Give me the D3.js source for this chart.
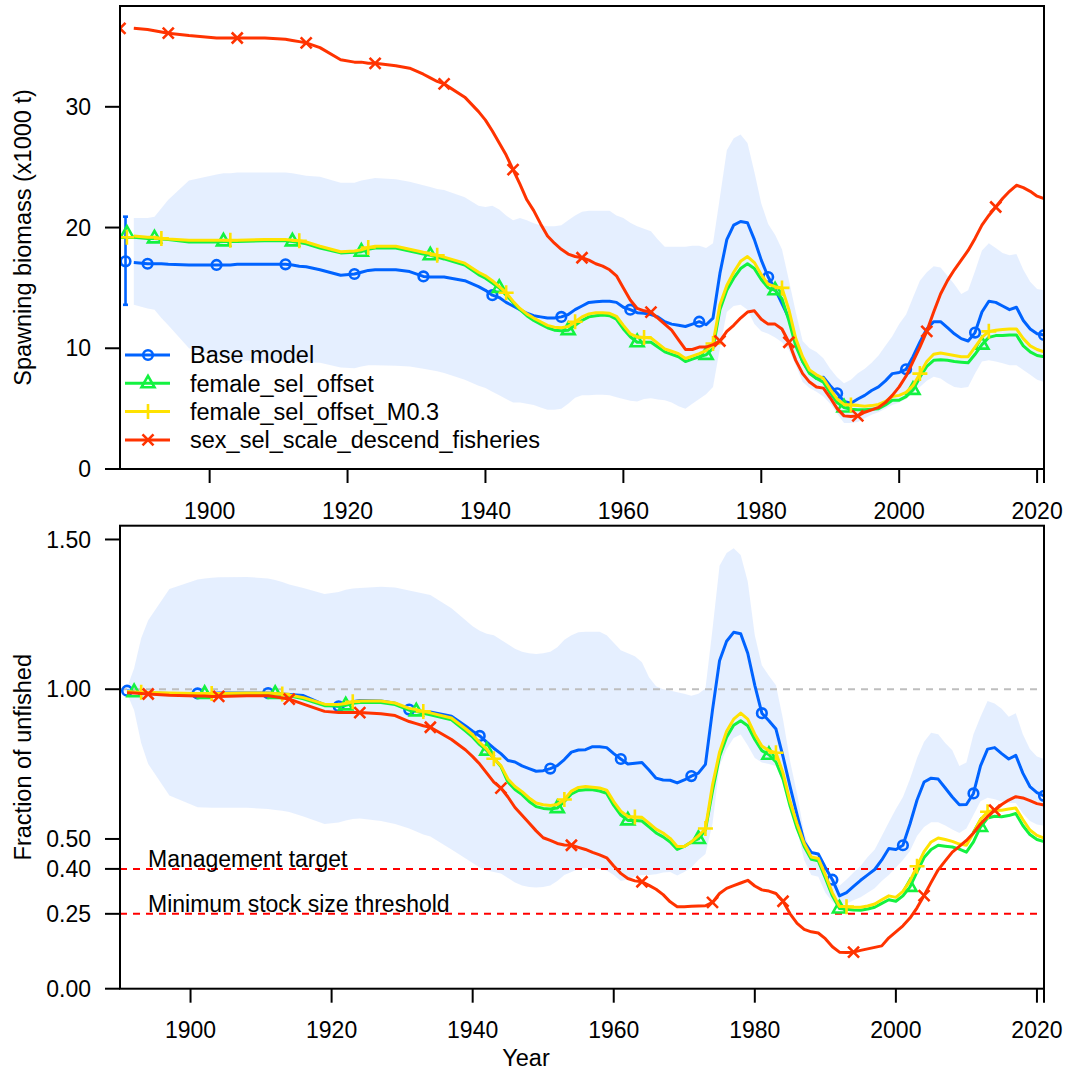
<!DOCTYPE html>
<html>
<head>
<meta charset="utf-8">
<script src="https://cdn.jsdelivr.net/npm/d3@7"></script>
<style>
  body { margin: 0; background: #fff; }
  svg { display: block; font-family: Arial, "Liberation Sans", sans-serif; }
  .frame { fill: none; stroke: #000; stroke-width: 2; }
  .tick line { stroke: #000; stroke-width: 2; }
  .tick text, .axis-title, .legend text, .ref-label { fill: #000; }
</style>
</head>
<body>
<div id="chart"></div>
<script>
// ---- data ----------------------------------------------------------------
const MODELS = ["Base model", "female_sel_offset", "female_sel_offset_M0.3", "sex_sel_scale_descend_fisheries"];
const COLORS = ["#0063FF", "#13F240", "#FFE201", "#FF3300"];
const SHAPES = ["circle", "triangle", "plus", "cross"];
const MARKER_START = [1891, 1892, 1893, 1894];
const MARKER_STEP = 10;

const YEARS = [
  1889, 1891, 1892, 1893, 1894, 1897, 1901, 1902, 1903, 1904, 1908, 1911, 1912, 1913, 1914,
  1916, 1919, 1921, 1922, 1923, 1924, 1927, 1929, 1931, 1932, 1933, 1934, 1937, 1939,
  1940, 1941, 1942, 1943, 1944, 1945, 1946, 1947, 1948, 1949,
  1950, 1951, 1952, 1953, 1954, 1955, 1956, 1957, 1958, 1959,
  1960, 1961, 1962, 1963, 1964, 1965, 1966, 1967, 1968, 1969,
  1970, 1971, 1972, 1973, 1974, 1975, 1976, 1977, 1978, 1979,
  1980, 1981, 1982, 1983, 1984, 1985, 1986, 1987, 1988, 1989,
  1990, 1991, 1992, 1993, 1994, 1995, 1996, 1997, 1998, 1999,
  2000, 2001, 2002, 2003, 2004, 2005, 2006, 2007, 2008, 2009,
  2010, 2011, 2012, 2013, 2014, 2015, 2016, 2017, 2018, 2019,
  2020, 2021
];

// spawning biomass (x1000 t)
const SSB_BASE = [
  17.1, 17.0, 17.0, 17.0, 16.95, 16.9, 16.9, 16.9, 16.9, 16.95, 16.95, 16.95, 16.9, 16.8, 16.75,
  16.5, 16.05, 16.15, 16.3, 16.45, 16.5, 16.5, 16.35, 15.95, 15.9, 15.9, 15.9, 15.6, 15.1,
  14.8, 14.4, 14.2, 13.8, 13.5, 13.2, 12.9, 12.7, 12.6, 12.5,
  12.5, 12.6, 12.8, 13.2, 13.5, 13.8, 13.85, 13.9, 13.9, 13.8,
  13.4, 13.2, 12.95, 12.9, 12.8, 12.6, 12.2, 12.0, 11.9, 11.8,
  12.0, 12.2, 11.95, 12.5, 16.2, 19.0, 20.2, 20.5, 20.4, 19.0,
  17.3, 15.9, 14.9, 13.7, 12.5, 10.6, 8.9, 8.0, 7.5, 7.6,
  6.9, 6.27, 5.6, 5.45, 5.8, 6.1, 6.5, 6.8, 7.3, 7.9,
  8.0, 8.26, 9.3, 10.5, 11.6, 12.2, 12.2, 11.7, 11.2, 10.8,
  10.6, 11.3, 13.0, 13.9, 13.8, 13.5, 13.2, 13.4, 12.3, 11.6,
  11.2, 11.1
];
const SSB_FEMALE = [
  19.2, 19.1, 19.1, 19.05, 19.0, 18.8, 18.8, 18.85, 18.85, 18.85, 18.9, 18.9, 18.85, 18.75, 18.65,
  18.3, 17.9, 17.95, 18.0, 18.2, 18.3, 18.3, 18.05, 17.8, 17.7, 17.55, 17.4, 16.9, 16.1,
  15.8, 15.4, 15.0, 14.4, 13.8, 13.2, 12.7, 12.3, 12.0, 11.7,
  11.5, 11.45, 11.5, 11.9, 12.3, 12.6, 12.7, 12.75, 12.7, 12.4,
  11.6, 10.95, 10.5, 10.5, 10.5, 10.1, 9.7, 9.5, 9.3, 8.9,
  9.1, 9.3, 9.45, 10.0, 13.2, 14.8, 15.8, 16.6, 17.0, 16.6,
  15.7, 15.0, 14.8, 14.1, 12.3, 10.2, 8.9, 7.9, 7.5, 7.2,
  6.3, 5.5, 5.1, 4.95, 4.9, 4.9, 4.95, 5.0, 5.3, 5.7,
  5.7, 6.0, 6.55, 7.6, 8.5, 9.0, 9.05, 9.0, 8.9, 8.85,
  8.8, 9.5, 10.3, 10.9, 11.05, 11.05, 11.1, 11.1, 10.2, 9.7,
  9.4, 9.3
];
const SSB_FEMALE_M03 = [
  19.3, 19.2, 19.2, 19.1, 19.05, 18.95, 18.95, 18.95, 18.95, 18.95, 19.0, 19.0, 18.95, 18.9, 18.8,
  18.45, 18.0, 18.05, 18.15, 18.35, 18.45, 18.45, 18.2, 17.95, 17.85, 17.7, 17.55, 17.05, 16.3,
  16.0, 15.6, 15.1, 14.6, 13.9, 13.3, 12.85, 12.5, 12.2, 11.9,
  11.75, 11.7, 11.8, 12.2, 12.6, 12.85, 12.95, 12.95, 12.9, 12.65,
  11.9, 11.2, 10.95, 10.9, 10.85, 10.4, 9.95, 9.75, 9.55, 9.15,
  9.35, 9.55, 9.8, 10.4, 13.6, 15.2, 16.3, 17.2, 17.6, 17.1,
  16.1, 15.3, 15.1, 15.0, 13.2, 10.8, 9.3, 8.2, 7.8, 7.5,
  6.6, 5.8, 5.35, 5.3, 5.25, 5.2, 5.25, 5.35, 5.6, 6.0,
  6.1, 6.35, 6.9, 7.9, 8.9, 9.5, 9.6, 9.5, 9.4, 9.3,
  9.3, 10.1, 10.9, 11.4, 11.5, 11.55, 11.6, 11.6, 10.8, 10.2,
  9.9, 9.7
];
const SSB_SEX_SEL = [
  36.5, 36.4, 36.3, 36.2, 36.1, 35.9, 35.7, 35.7, 35.7, 35.7, 35.7, 35.6, 35.5, 35.4, 35.3,
  34.9, 33.9, 33.7, 33.7, 33.6, 33.6, 33.4, 33.2, 32.7, 32.4, 32.1, 31.9, 30.8, 29.6,
  28.9, 28.0, 27.0, 26.0, 24.8, 23.6, 22.3, 21.4, 20.3, 19.3,
  18.7, 18.2, 17.8, 17.6, 17.5, 17.3, 17.0, 16.8, 16.5, 16.0,
  15.0, 14.0, 13.3, 13.1, 13.0, 12.5, 12.0, 11.5, 10.7, 9.9,
  9.9, 10.1, 10.1, 10.3, 10.6, 11.4, 11.9, 12.5, 13.0, 13.1,
  12.4, 12.0, 12.0, 11.6, 10.5, 9.0, 7.9, 7.2, 6.8, 6.7,
  5.9, 5.0, 4.4, 4.35, 4.4, 4.7, 4.9, 5.1, 5.5, 6.1,
  6.8, 7.7, 8.9, 10.1, 11.4, 13.0, 14.5, 15.6, 16.5, 17.3,
  18.1, 19.1, 20.2, 21.0, 21.7, 22.4, 23.0, 23.5, 23.3, 23.0,
  22.6, 22.4
];
// base model 95% interval for spawning biomass
const SSB_BASE_LOW = [
  13.6, 13.3, 13.2, 12.5, 11.9, 10.0, 9.3, 9.2, 9.1, 9.0, 8.95, 8.9, 8.9, 8.85, 8.85,
  8.8, 8.4, 8.35, 8.5, 8.6, 8.6, 8.55, 8.5, 8.3, 8.2, 8.1, 7.95, 7.4, 6.9,
  6.7, 6.4, 6.1, 5.8, 5.5, 5.5, 5.4, 5.3, 5.1, 4.9,
  4.9, 5.0, 5.4, 5.9, 6.1, 6.1, 6.15, 6.15, 6.1, 5.95,
  5.8, 5.65, 5.6, 5.8, 5.85, 5.75, 5.7, 5.5, 5.2, 5.0,
  5.4, 5.8, 6.2, 6.8, 10.0, 13.0, 13.5, 13.6, 13.2, 12.0,
  11.4, 11.2, 10.9, 10.5, 9.86, 8.6, 7.2, 6.7, 6.4, 6.0,
  5.4, 4.6, 3.8, 3.8, 3.9, 4.2, 4.5, 4.7, 5.0, 5.3,
  5.5, 5.8, 6.3, 6.8, 7.3, 7.65, 7.5, 7.1, 6.8, 6.7,
  6.8, 7.9, 8.9, 9.0, 8.9, 8.75, 8.6, 8.6, 8.2, 7.8,
  7.4, 7.2
];
const SSB_BASE_HIGH = [
  20.8, 20.8, 20.9, 21.6, 22.3, 23.9, 24.4, 24.5, 24.5, 24.55, 24.55, 24.55, 24.5, 24.4, 24.3,
  24.2, 23.7, 23.7, 23.9, 24.0, 24.1, 24.0, 23.8, 23.5, 23.35, 23.2, 23.1, 22.5, 21.8,
  21.7, 21.8, 21.5, 21.0, 20.6, 20.8, 20.6, 20.35, 20.2, 20.1,
  20.1, 20.2, 20.6, 21.0, 21.3, 21.4, 21.4, 21.4, 21.4, 21.0,
  20.8, 20.4, 20.1, 19.9, 19.7, 19.0, 18.4, 18.4, 18.4, 18.4,
  18.5, 18.5, 18.3, 18.7, 22.5, 26.4, 27.4, 27.7, 27.0, 24.6,
  22.0, 20.3, 19.4, 18.2, 15.66, 13.0, 10.6, 10.0, 9.7, 9.17,
  8.3, 7.6, 7.1, 7.4, 7.93, 8.3, 8.8, 9.4, 10.2, 11.0,
  12.0, 12.8, 14.2, 15.6, 16.3, 16.8, 16.7, 16.0, 15.3, 14.5,
  14.8, 16.4, 18.1, 18.7, 18.3, 17.9, 17.7, 17.8, 16.5, 15.5,
  14.9, 14.8
];
// unfished (virgin) spawning biomass, plotted left of the series
const VIRGIN_YEAR = [1887.8, 1888, 1888, 1887];
const VIRGIN_SSB = [17.2, 19.5, 19.2, 36.5];
const VIRGIN_BASE_INTERVAL = [13.6, 20.9];

// fraction of unfished
const BRATIO_BASE = [
  null, 0.995, 0.99, 0.988, 0.987, 0.986, 0.986, 0.986, 0.986, 0.987, 0.987, 0.987, 0.986, 0.984, 0.982,
  0.979, 0.948, 0.943, 0.95, 0.958, 0.962, 0.961, 0.953, 0.932, 0.928, 0.926, 0.924, 0.91, 0.877,
  0.86, 0.844, 0.823, 0.803, 0.785, 0.762, 0.757, 0.744, 0.735, 0.726,
  0.728, 0.735, 0.745, 0.765, 0.79, 0.797, 0.798, 0.808, 0.808, 0.805,
  0.785, 0.767, 0.75, 0.753, 0.755, 0.73, 0.703, 0.697, 0.696, 0.687,
  0.697, 0.71, 0.72, 0.749, 0.93, 1.095, 1.16, 1.19, 1.185, 1.12,
  1.013, 0.92, 0.895, 0.867, 0.775, 0.675, 0.58, 0.49, 0.455, 0.45,
  0.405, 0.364, 0.31, 0.321, 0.342, 0.362, 0.38, 0.398, 0.43, 0.468,
  0.465, 0.479, 0.55, 0.63, 0.69, 0.703, 0.7, 0.67, 0.64, 0.614,
  0.615, 0.652, 0.744, 0.8, 0.805, 0.785, 0.767, 0.779, 0.72, 0.675,
  0.655, 0.644
];
const BRATIO_FEMALE = [
  null, 0.99, 0.99, 0.988, 0.987, 0.985, 0.984, 0.984, 0.984, 0.984, 0.985, 0.985, 0.984, 0.982, 0.978,
  0.968, 0.945, 0.944, 0.946, 0.953, 0.956, 0.956, 0.949, 0.93, 0.926, 0.92, 0.915, 0.898, 0.86,
  0.84, 0.815, 0.795, 0.77, 0.742, 0.69, 0.665, 0.648, 0.625, 0.608,
  0.602, 0.6, 0.603, 0.625, 0.65, 0.662, 0.664, 0.664, 0.66, 0.652,
  0.612, 0.58, 0.562, 0.562, 0.56, 0.54, 0.52, 0.507, 0.49, 0.465,
  0.475, 0.49, 0.5, 0.53, 0.66, 0.775, 0.84, 0.88, 0.895, 0.878,
  0.832, 0.795, 0.781, 0.757, 0.7, 0.61, 0.535, 0.475, 0.432, 0.427,
  0.37, 0.31, 0.268, 0.265, 0.263, 0.262, 0.266, 0.272, 0.285, 0.297,
  0.292, 0.31, 0.34, 0.39, 0.438, 0.465, 0.479, 0.476, 0.473, 0.466,
  0.456, 0.49, 0.54, 0.57, 0.576, 0.574, 0.578, 0.585, 0.545, 0.515,
  0.498, 0.491
];
const BRATIO_FEMALE_M03 = [
  null, 0.992, 0.991, 0.99, 0.989, 0.987, 0.986, 0.986, 0.986, 0.986, 0.987, 0.987, 0.986, 0.984, 0.981,
  0.972, 0.95, 0.949, 0.952, 0.958, 0.961, 0.961, 0.954, 0.936, 0.932, 0.926, 0.921, 0.904, 0.868,
  0.848, 0.822, 0.8, 0.768, 0.745, 0.7, 0.675, 0.658, 0.637, 0.62,
  0.614, 0.612, 0.615, 0.632, 0.66, 0.672, 0.675, 0.673, 0.67, 0.663,
  0.625, 0.593, 0.575, 0.573, 0.572, 0.553, 0.533, 0.52, 0.502, 0.475,
  0.475, 0.49, 0.51, 0.535, 0.68, 0.79, 0.86, 0.9, 0.92, 0.9,
  0.85, 0.81, 0.795, 0.788, 0.72, 0.625, 0.55, 0.485, 0.44, 0.435,
  0.38, 0.32, 0.275, 0.274, 0.272, 0.272, 0.276, 0.283, 0.297, 0.31,
  0.305, 0.325, 0.36, 0.409, 0.458, 0.49, 0.503, 0.498, 0.492, 0.483,
  0.479, 0.52, 0.565, 0.591, 0.596, 0.596, 0.6, 0.603, 0.565, 0.53,
  0.512, 0.503
];
const BRATIO_SEX_SEL = [
  null, 0.988, 0.987, 0.986, 0.984, 0.98, 0.977, 0.977, 0.976, 0.976, 0.978, 0.978, 0.975, 0.971, 0.967,
  0.95, 0.926, 0.922, 0.922, 0.922, 0.922, 0.918, 0.912, 0.892, 0.885, 0.878, 0.873, 0.832, 0.797,
  0.775, 0.75, 0.72, 0.69, 0.67, 0.64, 0.605, 0.579, 0.553, 0.527,
  0.504, 0.495, 0.485, 0.48, 0.479, 0.472, 0.465, 0.455, 0.447, 0.437,
  0.41, 0.385, 0.368, 0.36, 0.357, 0.345, 0.332, 0.314, 0.29, 0.274,
  0.274, 0.275, 0.276, 0.277, 0.288, 0.318, 0.335, 0.344, 0.353, 0.362,
  0.343, 0.33, 0.326, 0.318, 0.292, 0.25, 0.218, 0.198, 0.19, 0.186,
  0.167, 0.14, 0.122, 0.121, 0.122, 0.128, 0.133, 0.138, 0.143, 0.17,
  0.19, 0.21, 0.236, 0.27, 0.311, 0.355, 0.397, 0.427, 0.456, 0.475,
  0.495, 0.52, 0.55, 0.575, 0.596, 0.615, 0.63, 0.641, 0.637, 0.628,
  0.618, 0.613
];
const BRATIO_BASE_LOW = [
  null, 0.985, 0.93, 0.82, 0.75, 0.645, 0.606, 0.605, 0.604, 0.604, 0.604, 0.6, 0.597, 0.594, 0.59,
  0.575, 0.55, 0.555, 0.562, 0.567, 0.568, 0.56, 0.55, 0.535, 0.525, 0.515, 0.508, 0.465, 0.435,
  0.42, 0.405, 0.395, 0.39, 0.385, 0.37, 0.355, 0.345, 0.34, 0.338,
  0.34, 0.345, 0.36, 0.38, 0.39, 0.4, 0.403, 0.403, 0.4, 0.395,
  0.38, 0.36, 0.365, 0.375, 0.38, 0.38, 0.382, 0.388, 0.39, 0.378,
  0.39, 0.405, 0.43, 0.45, 0.55, 0.744, 0.8, 0.837, 0.849, 0.812,
  0.77, 0.755, 0.75, 0.744, 0.69, 0.6, 0.53, 0.43, 0.38, 0.374,
  0.32, 0.29, 0.274, 0.284, 0.295, 0.305, 0.32, 0.335, 0.36, 0.38,
  0.405, 0.43, 0.46, 0.51, 0.54, 0.556, 0.556, 0.545, 0.532, 0.52,
  0.535, 0.58, 0.626, 0.638, 0.633, 0.625, 0.62, 0.62, 0.585, 0.56,
  0.548, 0.544
];
const BRATIO_BASE_HIGH = [
  null, 1.005, 1.07, 1.17, 1.23, 1.335, 1.366, 1.37, 1.372, 1.374, 1.375, 1.37, 1.365, 1.358, 1.35,
  1.338, 1.318, 1.325, 1.332, 1.336, 1.338, 1.342, 1.34, 1.33, 1.325, 1.32, 1.315, 1.27, 1.23,
  1.21, 1.195, 1.185, 1.18, 1.165, 1.15, 1.135, 1.125, 1.12, 1.118,
  1.12, 1.125, 1.14, 1.165, 1.18, 1.19, 1.192, 1.192, 1.192, 1.18,
  1.155, 1.13, 1.12, 1.11, 1.09, 1.04, 1.01, 1.0, 0.996, 0.99,
  0.985, 0.978, 0.985, 1.002, 1.2, 1.412, 1.455, 1.471, 1.448, 1.36,
  1.18, 1.08, 1.045, 1.013, 0.9, 0.76, 0.65, 0.52, 0.456, 0.45,
  0.41, 0.375, 0.344, 0.365, 0.388, 0.41, 0.44, 0.465, 0.51, 0.556,
  0.6, 0.64, 0.7, 0.77, 0.825, 0.855, 0.85, 0.82, 0.796, 0.744,
  0.755, 0.85, 0.908, 0.961, 0.952, 0.935, 0.908, 0.92, 0.85, 0.8,
  0.775, 0.767
];

const SSB_TICKS = [0, 10, 20, 30];
const BRATIO_TICKS = [0, 0.25, 0.4, 0.5, 1.0, 1.5];
const YEAR_TICKS = [1900, 1920, 1940, 1960, 1980, 2000, 2020, 2021];
const UNFISHED_LINE = 1.0;
const REF_LEVELS = [0.4, 0.25];
const REF_LABELS = ["Management target", "Minimum stock size threshold"];

// ---- drawing -------------------------------------------------------------
const width = 1067;
const height = 1071;
const fontSize = 23;

const svg = d3.select("#chart").append("svg")
  .attr("width", width)
  .attr("height", height);

const symbolPath = {
  triangle: "M0,-7.5L6.5,4L-6.5,4Z",
  plus: "M-7.5,0H7.5M0,-7.5V7.5",
  cross: "M-5.5,-5.5L5.5,5.5M-5.5,5.5L5.5,-5.5",
};

function drawMarker(g, shape, color, x, y) {
  if (shape === "circle") {
    g.append("circle")
      .attr("cx", x).attr("cy", y).attr("r", 4.8)
      .attr("fill", "none").attr("stroke", color).attr("stroke-width", 2.6);
  } else {
    g.append("path")
      .attr("d", symbolPath[shape])
      .attr("transform", `translate(${x},${y})`)
      .attr("fill", "none").attr("stroke", color).attr("stroke-width", 2.6);
  }
}

function panel({ id, top, bottom, xDomain, yDomain, yTicks, yFormat, yTitle, series, low, high }) {
  const left = 120;
  const right = 1044;
  const x = d3.scaleLinear().domain(xDomain).range([left, right]);
  const y = d3.scaleLinear().domain(yDomain).range([bottom, top]);

  svg.append("clipPath").attr("id", id)
    .append("rect").attr("x", left).attr("y", top)
    .attr("width", right - left).attr("height", bottom - top);

  const g = svg.append("g");
  const plot = g.append("g").attr("clip-path", `url(#${id})`);

  const rows = YEARS.map((year, i) => ({ year, i }));

  // uncertainty band of the base model
  const area = d3.area()
    .defined((d) => low[d.i] != null)
    .x((d) => x(d.year))
    .y0((d) => y(low[d.i]))
    .y1((d) => y(high[d.i]));
  plot.append("path")
    .datum(rows)
    .attr("d", area)
    .attr("fill", COLORS[0])
    .attr("fill-opacity", 0.1);

  // y axis
  const yAxis = g.append("g");
  yTicks.forEach((t) => {
    const tick = yAxis.append("g").attr("class", "tick");
    tick.append("line").attr("x1", left - 15).attr("x2", left).attr("y1", y(t)).attr("y2", y(t));
    tick.append("text")
      .attr("x", left - 29).attr("y", y(t)).attr("dy", "0.35em")
      .attr("text-anchor", "end")
      .style("font-size", `${fontSize}px`)
      .text(yFormat(t));
  });

  // x axis
  const xAxis = g.append("g");
  YEAR_TICKS.forEach((t) => {
    const tick = xAxis.append("g").attr("class", "tick");
    tick.append("line").attr("x1", x(t)).attr("x2", x(t)).attr("y1", bottom).attr("y2", bottom + 14);
    if (t % 20 === 0) {
      tick.append("text")
        .attr("x", x(t)).attr("y", bottom + 49.5)
        .attr("text-anchor", "middle")
        .style("font-size", `${fontSize}px`)
        .text(t);
    }
  });

  g.append("text")
    .attr("class", "axis-title")
    .attr("transform", `translate(23,${(top + bottom) / 2}) rotate(-90)`)
    .attr("dy", "0.35em")
    .attr("text-anchor", "middle")
    .style("font-size", `${fontSize + 0.5}px`)
    .text(yTitle);

  return { g, plot, x, y, left, right, rows, draw: () => drawSeries(plot, x, y, rows, series) };
}

function drawSeries(plot, x, y, rows, series) {
  series.forEach((values, m) => {
    const line = d3.line()
      .defined((d) => values[d.i] != null)
      .x((d) => x(d.year))
      .y((d) => y(values[d.i]));
    plot.append("path")
      .datum(rows)
      .attr("d", line)
      .attr("fill", "none")
      .attr("stroke", COLORS[m])
      .attr("stroke-width", 3)
      .attr("stroke-linejoin", "round");

    const markers = plot.append("g");
    for (let year = MARKER_START[m]; year <= YEARS[YEARS.length - 1]; year += MARKER_STEP) {
      const i = YEARS.indexOf(year);
      if (i < 0 || values[i] == null) continue;
      drawMarker(markers, SHAPES[m], COLORS[m], x(year), y(values[i]));
    }
  });
}

// top: spawning biomass
const ssb = panel({
  id: "clip-ssb",
  top: 6,
  bottom: 469,
  xDomain: [1887, 2021],
  yDomain: [0, 38.35],
  yTicks: SSB_TICKS,
  yFormat: d3.format("d"),
  yTitle: "Spawning biomass (x1000 t)",
  series: [SSB_BASE, SSB_FEMALE, SSB_FEMALE_M03, SSB_SEX_SEL],
  low: SSB_BASE_LOW,
  high: SSB_BASE_HIGH,
});
ssb.draw();

// unfished biomass points with the base model interval
const virgin = ssb.plot.append("g");
virgin.append("line")
  .attr("x1", ssb.x(VIRGIN_YEAR[0])).attr("x2", ssb.x(VIRGIN_YEAR[0]))
  .attr("y1", ssb.y(VIRGIN_BASE_INTERVAL[0])).attr("y2", ssb.y(VIRGIN_BASE_INTERVAL[1]))
  .attr("stroke", COLORS[0]).attr("stroke-width", 2.6);
VIRGIN_BASE_INTERVAL.forEach((v) => {
  virgin.append("line")
    .attr("x1", ssb.x(VIRGIN_YEAR[0]) - 2.5).attr("x2", ssb.x(VIRGIN_YEAR[0]) + 2.5)
    .attr("y1", ssb.y(v)).attr("y2", ssb.y(v))
    .attr("stroke", COLORS[0]).attr("stroke-width", 2.6);
});
VIRGIN_SSB.forEach((v, m) => drawMarker(virgin, SHAPES[m], COLORS[m], ssb.x(VIRGIN_YEAR[m]), ssb.y(v)));

// legend
const legend = ssb.g.append("g").attr("class", "legend");
MODELS.forEach((name, m) => {
  const ly = 355 + m * 28.3;
  legend.append("line")
    .attr("x1", 125).attr("x2", 170).attr("y1", ly).attr("y2", ly)
    .attr("stroke", COLORS[m]).attr("stroke-width", 3);
  drawMarker(legend, SHAPES[m], COLORS[m], 148, ly);
  legend.append("text")
    .attr("x", 190).attr("y", ly).attr("dy", "0.35em")
    .style("font-size", `${fontSize + 0.5}px`)
    .text(name);
});

// bottom: fraction of unfished
const bratio = panel({
  id: "clip-bratio",
  top: 525.7,
  bottom: 988.7,
  xDomain: [1890, 2021],
  yDomain: [0, 1.546],
  yTicks: BRATIO_TICKS,
  yFormat: d3.format(".2f"),
  yTitle: "Fraction of unfished",
  series: [],
  low: BRATIO_BASE_LOW,
  high: BRATIO_BASE_HIGH,
});

bratio.plot.append("line")
  .attr("x1", bratio.left).attr("x2", bratio.right)
  .attr("y1", bratio.y(UNFISHED_LINE)).attr("y2", bratio.y(UNFISHED_LINE))
  .attr("stroke", "#BEBEBE").attr("stroke-width", 2).attr("stroke-dasharray", "7,6");

REF_LEVELS.forEach((level, k) => {
  bratio.plot.append("line")
    .attr("x1", bratio.left).attr("x2", bratio.right)
    .attr("y1", bratio.y(level)).attr("y2", bratio.y(level))
    .attr("stroke", "#FF0000").attr("stroke-width", 2).attr("stroke-dasharray", "7,6");
  bratio.g.append("text")
    .attr("class", "ref-label")
    .attr("x", 148).attr("y", bratio.y(level) - 2)
    .style("font-size", `${fontSize}px`)
    .text(REF_LABELS[k]);
});

drawSeries(bratio.plot, bratio.x, bratio.y, bratio.rows,
  [BRATIO_BASE, BRATIO_FEMALE, BRATIO_FEMALE_M03, BRATIO_SEX_SEL]);

bratio.g.append("text")
  .attr("class", "axis-title")
  .attr("x", 526).attr("y", 1066)
  .attr("text-anchor", "middle")
  .style("font-size", `${fontSize + 0.5}px`)
  .text("Year");

// frames on top
[ssb, bratio].forEach((p) => {
  const [y0, y1] = p.y.range();
  p.g.append("rect").attr("class", "frame")
    .attr("x", p.left).attr("y", y1)
    .attr("width", p.right - p.left).attr("height", y0 - y1);
});
</script>
</body>
</html>
